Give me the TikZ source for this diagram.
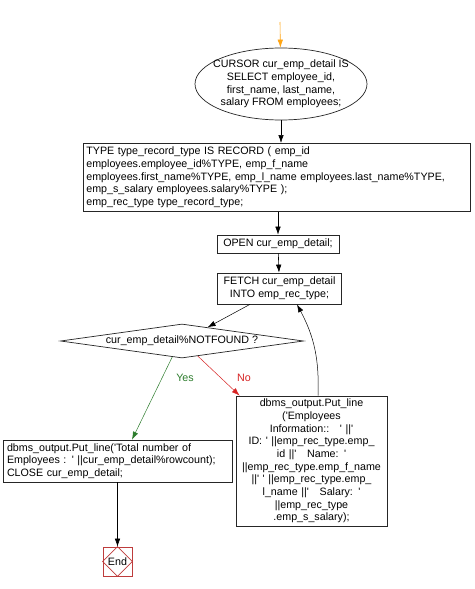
\documentclass[tikz,border=0pt]{standalone}
\usepackage{fontspec}
\setmainfont{Liberation Sans}
\usepackage{tikz}
\usetikzlibrary{arrows.meta, shapes.geometric, calc}

\newcommand{\q}{\textquotesingle}
\definecolor{yescol}{RGB}{45,125,45}
\definecolor{nocol}{RGB}{215,35,35}
\definecolor{endcol}{RGB}{190,60,60}
\definecolor{startcol}{RGB}{255,165,20}

\tikzset{
  box/.style={draw=black!85, line width=0.7pt, inner sep=0pt},
  flow/.style={-{Latex[length=8pt,width=5.5pt]}, line width=0.6pt},
}

\begin{document}
\begin{tikzpicture}[x=1pt, y=-1pt, font=\fontsize{10.7}{12.7}\selectfont]
      \useasboundingbox[fill=white] (0,0) rectangle (474,589);

      \coordinate (s) at (280,22);
      \node[box, ellipse, inner xsep=-11pt, minimum width=172pt, minimum height=72pt, align=center] (curs) at (281,84)
        {CURSOR cur\_emp\_detail IS\\SELECT employee\_id,\\first\_name, last\_name,\\salary FROM employees;};

      \node[box, anchor=north west, text width=381pt, inner xsep=3pt, minimum height=68pt, align=left] (rec) at (83,143)
        {TYPE type\_record\_type IS RECORD ( emp\_id\\
         employees.employee\_id\%TYPE, emp\_f\_name\\
         employees.first\_name\%TYPE, emp\_l\_name employees.last\_name\%TYPE,\\
         emp\_s\_salary employees.salary\%TYPE );\\
         emp\_rec\_type type\_record\_type;};

      \node[box, minimum width=122pt, minimum height=18pt] (open) at (278,244) {OPEN cur\_emp\_detail;};

      \node[box, minimum width=124pt, minimum height=31pt, align=center] (fetch) at (279.5,288.5)
        {FETCH cur\_emp\_detail\\INTO emp\_rec\_type;};

      \node[box, diamond, shape aspect=7, minimum width=243pt, minimum height=34pt] (test) at (182,341)
        {cur\_emp\_detail\%NOTFOUND ?};

      \node[box, text width=221pt, inner xsep=4pt, minimum height=42pt, align=left] (tot) at (117.5,461)
        {dbms\_output.Put\_line(\q Total number of\\
         Employees : \q\ ||cur\_emp\_detail\%rowcount);\\
         CLOSE cur\_emp\_detail;};

      \node[box, text width=151pt, minimum height=130pt, align=center] (info) at (311.5,461)
        {dbms\_output.Put\_line\\
         (\q Employees\\
         Information::\ \ \ \q\ ||\q\\
         ID: \q\ ||emp\_rec\_type.emp\_\\
         id ||\q\quad Name: \q\\
         ||emp\_rec\_type.emp\_f\_name\\
         ||\q\ \q\ ||emp\_rec\_type.emp\_\\
         l\_name ||\q\quad Salary: \q\\
         ||emp\_rec\_type\\
         .emp\_s\_salary);};

      \node[draw=endcol, line width=0.7pt, minimum size=29pt, inner sep=0pt] (stop) at (117.5,561.5) {End};
      \draw[endcol, line width=0.6pt] (stop.north) -- (stop.east) -- (stop.south) -- (stop.west) -- cycle;

      \node[text=yescol] (yes) at (185,378) {Yes};
      \node[text=nocol] (no) at (244,378) {No};

      \draw[flow, color=startcol] (s) -- (curs);
      \draw[flow] (curs.south) -- (curs.south |- rec.north);
      \draw[flow] (open.north |- rec.south) -- (open);
      \draw[flow] (open) -- (fetch);
      \draw[flow, line width=0.5pt] ([xshift=-29.5pt]fetch.south) -- ($(test.north)!0.21!(test.east)$);

      \draw[flow, color=yescol, line width=0.5pt] ($(test.south)!0.08!(test.west)$) -- ([xshift=14.5pt]tot.north);
      \draw[flow, color=nocol, line width=0.5pt] ($(test.south)!0.13!(test.east)$) -- ([xshift=4pt]info.north west);

      \draw[flow, line width=0.5pt] ([xshift=6.5pt]info.north) to[bend right=15] ([xshift=17.5pt]fetch.south);

      \draw[flow] (tot) -- (stop);

\end{tikzpicture}
\end{document}
